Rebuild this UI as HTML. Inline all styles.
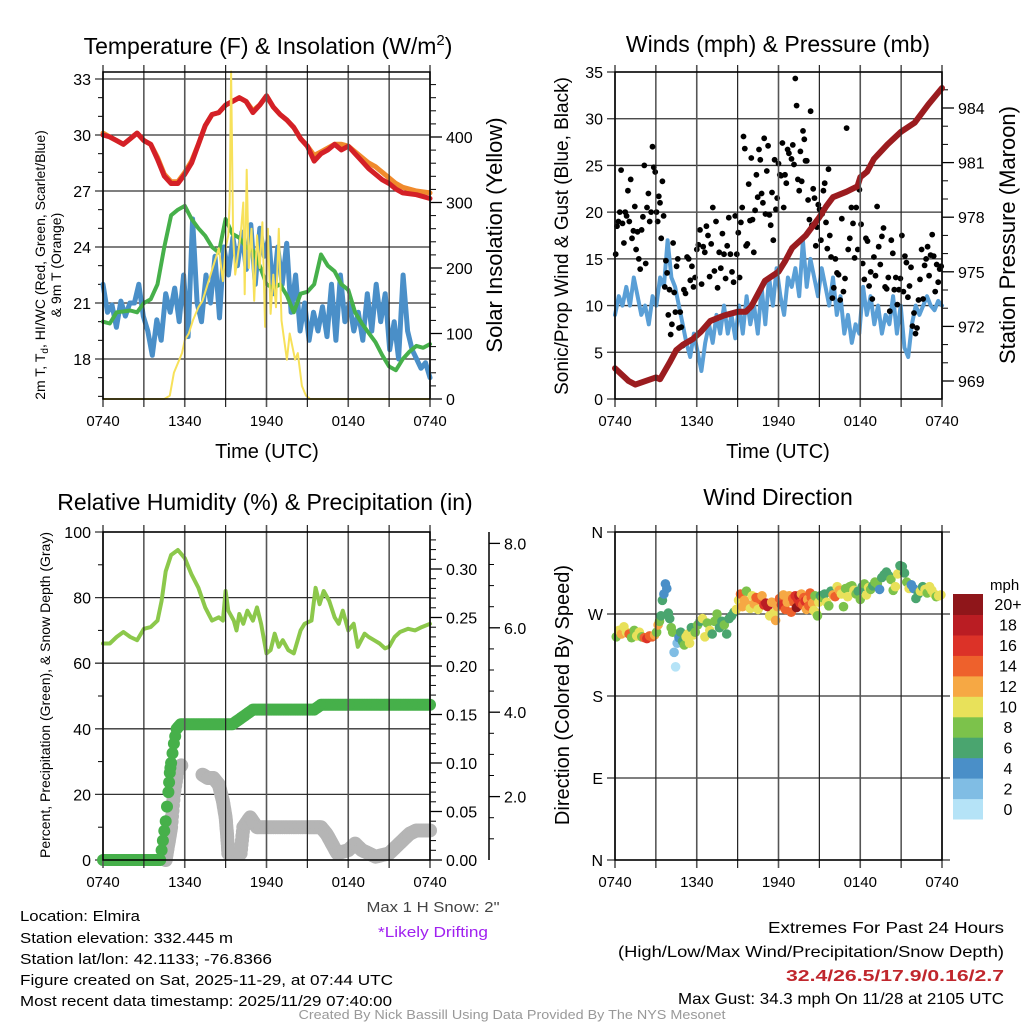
<!DOCTYPE html>
<html><head><meta charset="utf-8">
<style>
html,body{margin:0;padding:0;background:#fff;}
svg{display:block;font-family:"Liberation Sans",sans-serif;}
</style></head>
<body>
<svg id="fig" width="1024" height="1024" viewBox="0 0 1024 1024" xmlns="http://www.w3.org/2000/svg">
<rect width="1024" height="1024" fill="#fff"/>
<text x="268" y="54" font-size="23" text-anchor="middle">Temperature (F) &amp; Insolation (W/m<tspan dy="-9" font-size="15">2</tspan><tspan dy="9">)</tspan></text>
<text x="778" y="52" font-size="23" text-anchor="middle">Winds (mph) &amp; Pressure (mb)</text>
<text x="265" y="510" font-size="23" text-anchor="middle">Relative Humidity (%) &amp; Precipitation (in)</text>
<text x="778" y="505" font-size="23" text-anchor="middle">Wind Direction</text>

<g id="p1"></g>
<g id="p2"></g>
<g id="p3"></g>
<g id="p4"></g>

<text x="267" y="458" font-size="20" text-anchor="middle">Time (UTC)</text>
<text x="778" y="458" font-size="20" text-anchor="middle">Time (UTC)</text>
<g transform="translate(45,265) rotate(-90)" font-size="14" text-anchor="middle">
<text x="0" y="0">2m T, T<tspan font-size="10" dy="3">d</tspan><tspan dy="-3">, HI/WC (Red, Green, Scarlet/Blue)</tspan></text>
<text x="0" y="16">&amp; 9m T (Orange)</text></g>
<text transform="translate(502,235) rotate(-90)" font-size="22" text-anchor="middle">Solar Insolation (Yellow)</text>
<text transform="translate(568,236) rotate(-90)" font-size="19" text-anchor="middle">Sonic/Prop Wind &amp; Gust (Blue, Black)</text>
<text transform="translate(1015,235) rotate(-90)" font-size="22" text-anchor="middle">Station Pressure (Maroon)</text>
<text transform="translate(50,695) rotate(-90)" font-size="14" text-anchor="middle">Percent, Precipitation (Green), &amp; Snow Depth (Gray)</text>
<text transform="translate(569,695) rotate(-90)" font-size="20" text-anchor="middle">Direction (Colored By Speed)</text>

<g font-size="15">
<text x="20" y="921" textLength="120" lengthAdjust="spacingAndGlyphs">Location: Elmira</text>
<text x="20" y="943" textLength="213" lengthAdjust="spacingAndGlyphs">Station elevation: 332.445 m</text>
<text x="20" y="964" textLength="252" lengthAdjust="spacingAndGlyphs">Station lat/lon: 42.1133; -76.8366</text>
<text x="20" y="985" textLength="373" lengthAdjust="spacingAndGlyphs">Figure created on Sat, 2025-11-29, at 07:44 UTC</text>
<text x="20" y="1006" textLength="372" lengthAdjust="spacingAndGlyphs">Most recent data timestamp: 2025/11/29 07:40:00</text>
</g>
<text x="433" y="912" font-size="15" fill="#444" text-anchor="middle" textLength="133" lengthAdjust="spacingAndGlyphs">Max 1 H Snow: 2"</text>
<text x="433" y="937" font-size="15" fill="#a020f0" text-anchor="middle" textLength="110" lengthAdjust="spacingAndGlyphs">*Likely Drifting</text>
<g font-size="16" text-anchor="end">
<text x="1004" y="933" textLength="236" lengthAdjust="spacingAndGlyphs">Extremes For Past 24 Hours</text>
<text x="1004" y="957" textLength="386" lengthAdjust="spacingAndGlyphs">(High/Low/Max Wind/Precipitation/Snow Depth)</text>
<text x="1004" y="981" fill="#c0272d" font-weight="bold" textLength="218" lengthAdjust="spacingAndGlyphs">32.4/26.5/17.9/0.16/2.7</text>
<text x="1004" y="1004" textLength="326" lengthAdjust="spacingAndGlyphs">Max Gust: 34.3 mph On 11/28 at 2105 UTC</text>
</g>
<text x="512" y="1019" font-size="13" fill="#999" text-anchor="middle" textLength="427" lengthAdjust="spacingAndGlyphs">Created By Nick Bassill Using Data Provided By The NYS Mesonet</text>
</svg>
<script>
// ---------- DATA ----------
const xTickLabels = ["0740","1340","1940","0140","0740"];
const tempTicks = [18,21,24,27,30,33];
const solarTicks = [0,100,200,300,400];
const windTicks = [0,5,10,15,20,25,30,35];
const pressTicks = [969,972,975,978,981,984];
const rhTicks = [0,20,40,60,80,100];
const precipTicks = ["0.00","0.05","0.10","0.15","0.20","0.25","0.30"];
const snowTicks = ["2.0","4.0","6.0","8.0"];
const dirTicks = ["N","E","S","W","N"];
const speedBinLabels = ["0","2","4","6","8","10","12","14","16","18","20+"];
const speedBinColors = ["#b5e3f7","#80bde4","#4a8fc8","#4aa56f","#7cc24b","#e8e15a","#f6a844","#ee612c","#dc3228","#ba1d23","#8f161a"];

const tempHours = [0,0.5,1,1.5,2,2.5,3,3.5,4,4.5,5,5.5,6,6.5,7,7.5,8,8.5,9,9.5,10,10.5,11,11.5,12,12.5,13,13.5,14,14.5,15,15.5,16,16.5,17,17.5,18,18.5,19,19.5,20,20.5,21,21.5,22,23,24];
const temp2m = [30.0,29.9,29.7,29.5,29.8,30.1,29.7,29.5,28.7,27.8,27.4,27.4,27.9,28.5,29.5,30.5,31.1,31.2,31.6,31.8,32.0,31.8,31.2,31.6,32.1,31.5,31.1,30.8,30.4,29.8,29.4,28.6,29.0,29.2,29.5,29.2,29.4,29.0,28.6,28.2,27.9,27.6,27.4,27.1,26.9,26.8,26.6];
const temp9m = [30.1,29.9,29.7,29.5,29.8,30.1,29.7,29.5,28.8,27.9,27.5,27.5,28.0,28.6,29.5,30.5,31.1,31.2,31.6,31.8,32.0,31.8,31.3,31.6,32.1,31.5,31.1,30.8,30.4,29.8,29.4,28.9,29.1,29.3,29.5,29.5,29.4,29.1,28.8,28.5,28.3,28.0,27.7,27.4,27.2,27.0,26.9];
const dewHours = [0,0.5,1,2,2.5,3,3.5,4,4.5,5,5.5,6,6.5,7,7.5,8,8.5,9,9.5,10,10.5,11,11.5,12,12.5,13,13.5,14,14.5,15,15.5,16,16.5,17,17.5,18,18.5,19,19.5,20,20.5,21,21.5,22,22.5,23,23.5,24];
const dewpoint = [20.0,19.9,20.5,20.6,20.5,21.0,21.2,22.0,24.0,25.7,26.0,26.2,25.5,25.0,24.6,24.0,23.7,25.5,24.7,24.5,24.0,23.8,23.0,22.0,21.8,22.0,21.4,20.5,21.5,21.6,22.0,23.6,23.0,22.7,22.0,21.7,20.5,19.9,19.4,18.9,18.2,17.6,17.4,18.0,18.4,18.7,18.6,18.8];
const windChill = [22.0,20.5,20.9,19.7,21.1,20.3,21.0,21.0,22.0,20.3,19.5,18.2,20.1,19.0,21.5,20.5,21.8,20.0,22.5,19.2,25.5,21.0,20.0,22.5,21.0,23.5,20.2,24.0,22.5,24.5,23.0,24.8,22.8,25.2,22.0,25.0,23.5,24.5,21.5,24.0,22.0,24.2,20.5,22.5,19.5,21.0,19.0,20.5,19.5,20.8,19.2,22.0,19.0,22.5,20.0,21.0,19.5,20.5,19.0,21.5,19.5,22.0,20.0,21.5,18.5,20.0,18.0,22.5,19.5,18.5,18.0,17.5,17.8,17.0];
const solarHours = [0,4.5,4.9,5.2,5.4,5.6,5.8,6.0,6.3,6.6,7.0,7.3,7.6,7.9,8.2,8.5,8.8,9.0,9.2,9.3,9.4,9.55,9.7,9.9,10.1,10.3,10.4,10.55,10.7,10.9,11.1,11.3,11.5,11.7,11.9,12.1,12.3,12.5,12.7,12.9,13.1,13.3,13.5,13.7,13.9,14.1,14.3,14.6,14.9,15.2,24];
const solar = [0,0,5,40,50,60,70,90,100,120,140,150,170,190,210,230,180,230,250,300,500,250,190,220,250,300,160,350,200,260,150,250,200,270,110,260,130,190,140,260,120,90,60,100,80,60,70,20,5,0,0];

const windSpeed = [9,11,10,12,10,13,11,9,10,8,11,10,13,12,17,13,12,10,8,6,4.5,7,5,3,6,8,6,9,7,10,7,9,6.5,10,7,11,8,10,7,12,8,13,10,14,11,9,13,12,14,11,17,12,15,13,11,14,12,10,13,9,11,7,9,6,8,7,12,9,11,8,10,7,9,8,11,7,10,5.5,4.5,8,10,9,10,11,10,9.5,10.5,10];
const gustGroupBounds = [0,3,5,9,13,16,20,24];
const windGust = [15.5,18.5,19,20,24.5,18.8,16.7,20,19.6,22.3,19,23.5,17.2,18,20.6,16,17.9,15,13.9,18.1,19.5,25,14.5,20.5,22,19,20,27,24.8,24.3,
20,19,21.7,21,17.2,23.3,19.6,12,14.8,13.5,9,11.7,6.9,8,16.7,11.4,9.3,14.2,15,7.6,9.3,7.7,5.7,
11.7,11.3,15.2,15,12.7,14.2,12,13,16,16.5,18.1,12.3,16.3,15.7,18.5,17.5,13.1,16.6,20.5,13.7,19,11.9,15.7,14,17.7,15.5,12.9,16.4,19.4,15.5,13.6,12.5,19.6,15.5,
17.8,13,18.9,20.5,28.1,26.8,16.4,16.6,23,19.1,25.8,19.2,15.7,20.2,24,21.6,26.7,25.6,22,21,27.9,19.8,24.4,27.1,19.7,18.6,22.1,17,25.6,20.3,21.5,25.2,24,23.9,27.4,20.5,24,23.1,26.7,26.3,15.8,25.7,
27.2,25.1,34.3,31.4,23.5,22.3,26.5,23.3,28.7,27.8,25.5,25.5,21.3,19.2,30.8,18.6,22.5,21.5,16.4,18.4,20.8,20.3,17,19.8,22.3,23.1,18.9,16.1,24.6,17.5,15.2,10.8,
11.9,15,13.5,13.3,10.6,19.3,11.5,12.9,29,16,17.2,20.5,18.8,15.1,20.5,16,22.4,18.7,14.5,12.8,17.2,16.9,12.1,13.6,10.7,15.2,13.2,20.6,16.3,14.4,17.4,18.3,12,11.8,
13,9.4,17,15.6,11.7,13,10.1,11.7,12.9,17.5,11.5,15.3,14.6,10.9,12.1,14.1,7.8,9.2,7,7.6,10.6,12.8,16,10.7,14.3,15,16.3,13.2,15.4,17.6,15.3,11.5,14.4,12.5,13.9,14.2];
const gustGroupSizes = [30,23,34,42,32,34,36];
const pressHours = [0,1,1.5,3,3.3,4,4.5,5,5.7,6.3,7,8,9,9.6,10,10.5,11,12,12.5,13,14,15,15.5,16,17,17.8,18,18.5,19,20,21,22,23,24];
const pressure = [969.7,969.0,968.8,969.2,969.1,970.0,970.7,971.0,971.3,971.7,972.3,972.6,972.8,972.8,973.1,973.8,974.5,975.0,975.6,976.3,977.0,978.0,978.6,979.1,979.4,979.7,980.2,980.5,981.2,982.0,982.7,983.2,984.2,985.1];

const rhHours = [0,0.5,1,1.5,2,2.5,3,3.5,4,4.3,4.6,5,5.5,6,6.5,7,7.5,8,8.5,8.8,9,9.2,9.6,9.8,10,10.3,10.6,11,11.3,11.6,12,12.3,12.6,12.9,13.2,13.6,14,14.5,14.8,15.3,15.6,15.9,16.2,16.6,17,17.3,17.6,18,18.4,18.7,19.2,19.5,19.9,20.3,20.7,21,21.4,21.8,22.4,22.9,23.4,24];
const rh = [66,66,68,69.5,68,67,70.5,71,73,79,88,93,94.5,92,87,83,77,73,74,73,82,76,73,70,75,72,76,73,77,72,63,64,69,65,67,64,63,70,72,73,83,78,82,79,74,72,76,70,72,65,69,68,67,66,64.5,65,68,69.5,70.5,70,71,72];
const precipHours = [0,4.2,4.4,4.6,4.8,4.9,5.0,5.2,5.4,5.7,9.5,10,10.5,11,15.5,16,24];
const precip = [0,0,0.02,0.04,0.07,0.09,0.10,0.12,0.135,0.14,0.14,0.145,0.15,0.155,0.155,0.16,0.16];
const snowHours = [4.6,4.8,5.0,5.2,5.5,5.8,7.3,7.7,8.1,8.5,8.8,9.0,9.1,9.2,10.1,10.3,10.8,11.3,12,13,14,15,15.5,16,16.4,16.8,17.2,18,18.5,19,20,21,21.5,22,22.5,23,24];
const snowDepthPct = [0,5,10,20,28,29,26,25,25,23,18,13,8,2,2,10,13,10,10,10,10,10,10,10,8,5,2,3,5,3,1,2,4,6,8,9,9];

const dirGroupBounds = [0,3,4.5,5.8,9,13,15,19,24];
const dirDeg = [245,252,248,256,250,248,244,252,246,250,245,244,243,246,245,247,
250,258,262,268,285,292,303,298,271,265,255,250,228,212,
238,244,250,240,236,245,248,238,255,247,
250,258,262,265,245,260,252,248,262,270,255,262,258,248,265,268,272,275,
285,292,278,285,295,280,276,290,281,288,275,286,290,280,282,278,268,283,271,263,278,287,280,291,275,283,290,272,
287,283,290,277,286,290,282,292,280,288,284,275,286,279,293,288,282,274,290,271,268,283,
290,288,292,283,279,295,291,289,300,296,292,278,298,289,300,301,296,292,295,286,300,303,291,299,297,301,
305,303,297,310,313,316,312,308,296,300,314,323,322,315,305,298,302,298,287,292,295,300,297,293,300,296,292,289,290,291];
const dirSpeed = [9,11,13,10,11,14,8,9,11,10,9,15,16,15,14,13,
8,12,9,7,7,5,4,5,6,6,8,8,2,1.5,
3,5,7,6,9,10,11,10,6,10,
8,9,7,10,11,8,10,6,9,8,7,7,8,7,6,6,7,10,
10,14,12,13,8,12,10,11,13,15,11,14,12,16,19,18,10,12,11,12,13,15,16,12,14,13,12,14,
14,15,17,20,16,18,16,13,14,15,17,13,12,14,14,15,12,10,9,10,9,11,
7,8,7,11,9,7,12,14,10,12,11,8,9,11,9,8,10,9,7,8,7,9,10,11,9,7,
9,8,4,6,7,6,6,9,8,10,10,6,6,7,9,10,4,5,6,7,10,6,11,9,10,11,10,9,11,10];
const dirGroupSizes = [16,14,10,18,28,22,26,30];

// ---------- HELPERS ----------
const NS = "http://www.w3.org/2000/svg";
function mk(parent, tag, attrs, txt){
  const e = document.createElementNS(NS, tag);
  for (const k in attrs) e.setAttribute(k, attrs[k]);
  if (txt !== undefined) e.textContent = txt;
  parent.appendChild(e);
  return e;
}
function idxHours(n){ const h=[]; for(let i=0;i<n;i++) h.push(i/(n-1)*24); return h; }
function groupHours(bounds, sizes){
  const h=[];
  sizes.forEach((n,g)=>{ const a=bounds[g], b=bounds[g+1]; for(let i=0;i<n;i++) h.push(a+(b-a)*(i+0.5)/n); });
  return h;
}
function pts(hs, vs, xf, yf){ return hs.map((h,i)=>xf(h).toFixed(1)+","+yf(vs[i]).toFixed(1)).join(" "); }

function frame(g, x0, x1, y0, y1, name){
  for (let k=0;k<=8;k++){
    const x = x0 + k*(x1-x0)/8;
    const l = mk(g,"line",{x1:x,x2:x,y1:y0-7,y2:y1+8,stroke:(k%2?"#222":"#555"),"stroke-width":(k%2?1.2:1.6)});
    
    
  }
  for (let k=0;k<5;k++){
    const x = x0 + k*(x1-x0)/4;
    const t = mk(g,"text",{x:x,y:y1+27,"font-size":15,"text-anchor":"middle"}, xTickLabels[k]);
    
    
  }
  const r = mk(g,"rect",{x:x0,y:y0,width:x1-x0,height:y1-y0,fill:"none",stroke:"#000","stroke-width":1.5});
  
  
}
function hgrid(g, x0, x1, y, label, name, side){
  const l = mk(g,"line",{x1:x0-8,x2:x1+(side?8:0),y1:y,y2:y,stroke:"#333","stroke-width":1.3});
  
  
  const t = mk(g,"text",{x:x0-12,y:y+6,"font-size":16,"text-anchor":"end"}, label);
  
  
}
function rightTicks(g, x, ys, labels, name, minorYs){
  for (const y of minorYs){ const m=mk(g,"line",{x1:x,x2:x+6,y1:y,y2:y,stroke:"#000","stroke-width":1});
      }
  ys.forEach((y,i)=>{
    const l=mk(g,"line",{x1:x,x2:x+12,y1:y,y2:y,stroke:"#000","stroke-width":1.3});
     
    const t=mk(g,"text",{x:x+16,y:y+6,"font-size":16}, labels[i]);
     
  });
}
function leftMinor(g, x, ys, name){
  for (const y of ys){ const m=mk(g,"line",{x1:x-5,x2:x,y1:y,y2:y,stroke:"#000","stroke-width":1});
      }
}
function line(g, hs, vs, xf, yf, color, w, name){
  const p = mk(g,"polyline",{points:pts(hs,vs,xf,yf),fill:"none",stroke:color,"stroke-width":w,"stroke-linejoin":"round","stroke-linecap":"round"});
  
  
  return p;
}

// ---------- PANEL 1 ----------
(function(){
  const g = document.getElementById("p1");
  const X0=103,X1=430,Y0=72,Y1=399;
  const x = h => X0 + h/24*(X1-X0);
  const yT = v => 79 + (33-v)*56/3;
  const yS = s => 399 - s*262/400;
  const minorL=[]; for(let v=16;v<=33;v+=1) if(v%3) minorL.push(yT(v));
  leftMinor(g,X0,minorL,"temp");
  tempTicks.forEach(v=>hgrid(g,X0,X1,yT(v),String(v),"temp",false));
  const minorR=[]; for(let s=0;s<=500;s+=20) if(s%100) minorR.push(yS(s));
  rightTicks(g,X1,solarTicks.map(yS),solarTicks.map(String),"solar",minorR);
  line(g, idxHours(windChill.length), windChill, x, yT, "#4a8fc8", 5, "wind-chill-line");
  line(g, dewHours, dewpoint, x, yT, "#46b04a", 4, "dewpoint-line");
  line(g, tempHours, temp9m, x, yT, "#f08a2c", 5, "temp-9m-line");
  line(g, tempHours, temp2m, x, yT, "#d42027", 5, "temp-2m-line");
  line(g, solarHours, solar, x, yS, "#f7e15a", 2, "solar-insolation-line");
  frame(g,X0,X1,Y0,Y1,"temp");
})();

// ---------- PANEL 2 ----------
(function(){
  const g = document.getElementById("p2");
  const X0=615,X1=942,Y0=72,Y1=399;
  const x = h => X0 + h/24*(X1-X0);
  const yW = v => 399 - v*327/35;
  const yP = p => 381 - (p-969)*273/15;
  windTicks.forEach(v=>hgrid(g,X0,X1,yW(v),String(v),"wind",false));
  const minorR=[]; for(let p=968;p<=986;p+=1) if(p%3) minorR.push(yP(p));
  rightTicks(g,X1,pressTicks.map(yP),pressTicks.map(String),"pressure",minorR.filter(y=>y>=Y0&&y<=Y1));
  line(g, idxHours(windSpeed.length), windSpeed, x, yW, "#5a9fd6", 4, "wind-speed-line");
  const gh = groupHours(gustGroupBounds, gustGroupSizes);
  windGust.forEach((v,i)=>{
    const c = mk(g,"circle",{cx:x(gh[i]).toFixed(1),cy:yW(v).toFixed(1),r:2.9,fill:"#000"});
    
    
  });
  line(g, pressHours, pressure, x, yP, "#9b1c1f", 6, "pressure-line");
  frame(g,X0,X1,Y0,Y1,"wind");
})();

// ---------- PANEL 3 ----------
(function(){
  const g = document.getElementById("p3");
  const X0=103,X1=430,Y0=532,Y1=860;
  const x = h => X0 + h/24*(X1-X0);
  const yR = v => 860 - v*3.28;
  const yPr = p => 860 - p*970;
  const minorL=[]; for(let v=10;v<100;v+=20) minorL.push(yR(v));
  leftMinor(g,X0,minorL,"rh");
  rhTicks.forEach(v=>hgrid(g,X0,X1,yR(v),String(v),"rh",false));
  const minorR=[]; for(let p=0;p<=0.335;p+=0.01) if(Math.round(p*100)%5) minorR.push(yPr(p));
  rightTicks(g,X1,precipTicks.map(s=>yPr(parseFloat(s))),precipTicks,"precip",minorR);
  const sa = mk(g,"line",{x1:489,x2:489,y1:532,y2:860,stroke:"#000","stroke-width":1.5});
   
  const snowY = s => 881 - parseFloat(s)*42.2;
  const sminor=[]; for(let s=1;s<=8.4;s+=0.5) if(s%2) sminor.push(snowY(s));
  sminor.forEach(y=>{ const m=mk(g,"line",{x1:489,x2:494,y1:y,y2:y,stroke:"#000","stroke-width":1});
      });
  snowTicks.forEach(s=>{
    const y=snowY(s);
    const l=mk(g,"line",{x1:489,x2:500,y1:y,y2:y,stroke:"#000","stroke-width":1.3});
     
    const t=mk(g,"text",{x:504,y:y+6,"font-size":16},s);
     
  });
  for (let i=0;i<snowHours.length-1;i++){
    if (snowHours[i+1]-snowHours[i] > 1.2) { continue; }
    for (let k=0;k<6;k++){
      const f=k/6, h=snowHours[i]+(snowHours[i+1]-snowHours[i])*f, v=snowDepthPct[i]+(snowDepthPct[i+1]-snowDepthPct[i])*f;
      const c=mk(g,"circle",{cx:x(h).toFixed(1),cy:yR(v).toFixed(1),r:7,fill:"#b5b5b5"});
       
    }
  }
  const lc=mk(g,"circle",{cx:x(24),cy:yR(snowDepthPct[snowDepthPct.length-1]),r:7,fill:"#b5b5b5"});
   
  for (let i=0;i<precipHours.length-1;i++){
    const n = Math.max(2, Math.ceil((precipHours[i+1]-precipHours[i])*8));
    for (let k=0;k<n;k++){
      const f=k/n, h=precipHours[i]+(precipHours[i+1]-precipHours[i])*f, v=precip[i]+(precip[i+1]-precip[i])*f;
      const c=mk(g,"circle",{cx:x(h).toFixed(1),cy:yPr(v).toFixed(1),r:6,fill:"#46b04a"});
       
    }
  }
  const pc=mk(g,"circle",{cx:x(24),cy:yPr(precip[precip.length-1]),r:6,fill:"#46b04a"});
   
  line(g, rhHours, rh, x, yR, "#8cc84b", 4, "relative-humidity-line");
  frame(g,X0,X1,Y0,Y1,"rh");
})();

// ---------- PANEL 4 ----------
(function(){
  const g = document.getElementById("p4");
  const X0=615,X1=942,Y0=532,Y1=860;
  const x = h => X0 + h/24*(X1-X0);
  const yD = d => 860 - d/360*328;
  dirTicks.forEach((lab,i)=>hgrid(g,X0,X1,yD(i*90),lab,"direction",true));
  const dh = groupHours(dirGroupBounds, dirGroupSizes);
  dirDeg.forEach((d,i)=>{
    const bin = Math.min(10, Math.floor(dirSpeed[i]/2));
    const c = mk(g,"circle",{cx:x(dh[i]).toFixed(1),cy:yD(d).toFixed(1),r:4.8,fill:speedBinColors[bin]});
    
    
  });
  frame(g,X0,X1,Y0,Y1,"direction");
  const lg = mk(g,"g",{});
  
  
  const t0 = mk(lg,"text",{x:990,y:590,"font-size":15},"mph");
   
  const bh = (819-594)/11;
  speedBinLabels.forEach((lab,i)=>{
    const j = 10-i;
    const y = 594 + bh*j;
    const r = mk(lg,"rect",{x:953,y:y.toFixed(1),width:30,height:(bh+0.5).toFixed(1),fill:speedBinColors[i]});
     
    const t = mk(lg,"text",{x:1008,y:(y+bh/2+6).toFixed(1),"font-size":16,"text-anchor":"middle"},lab);
     
  });
})();
</script>
</body></html>
